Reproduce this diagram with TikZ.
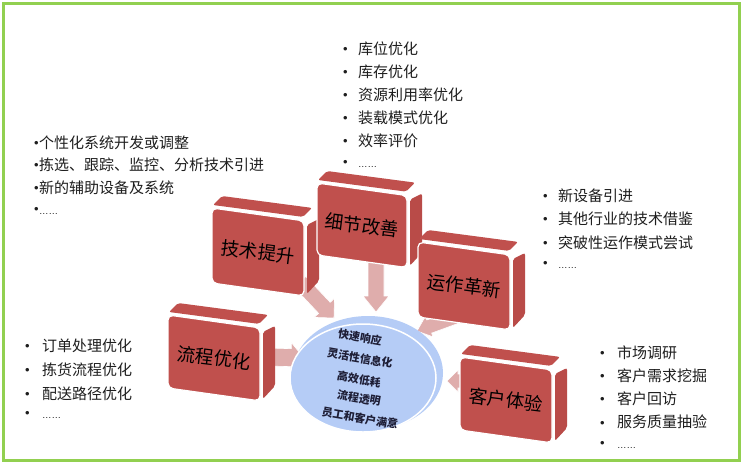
\documentclass[tikz,border=0pt]{standalone}
\usepackage{fontspec}
\setmainfont{Noto Sans CJK SC}
\newfontfamily\latf{Liberation Sans}
\usetikzlibrary{calc}
\definecolor{framegreen}{HTML}{92D050}
\definecolor{boxred}{HTML}{C0504D}
\definecolor{boxside}{HTML}{B94B48}
\definecolor{arrowpink}{HTML}{DFADAC}
\definecolor{ellblue}{HTML}{B5CCF6}
\definecolor{listtext}{HTML}{1E1E1E}
\definecolor{elltext}{HTML}{1E1E36}
\tikzset{
  boxface/.style={fill=boxred, draw=white, line width=1.2pt, rounded corners=5pt},
  boxlabel/.style={font=\fontsize{18.5}{18.5}\selectfont, text=black, rotate=-7, inner sep=0pt},
  listitem/.style={anchor=base west, inner sep=0pt, font=\fontsize{15}{15}\selectfont, text=listtext},
  blockarrow/.style={fill=arrowpink, draw=white, line width=0.6pt},
  elltxt/.style={font=\bfseries\fontsize{11}{11}\selectfont, text=elltext, rotate=-10, inner sep=0pt},
}
\newcommand\bul{\raisebox{0.8pt}{\latf\fontsize{13}{13}\selectfont\char"2022}}
\newcommand\dotsx{{\latf\fontsize{9.5}{9.5}\selectfont\char"2026\char"2026}}
\newcommand\cubebox[6]{%
  \fill[boxside, rounded corners=2pt] (#2+#4+3, #3+0.14*#4+4) -- (#2+#4+15, #3+0.14*#4-2) -- (#2+#4+15, #3+#5+0.14*#4-15) -- (#2+#4+3, #3+#5+0.14*#4-2) -- cycle;
  \fill[boxred, rounded corners=2pt] (#2+1,#3-3) -- (#2+10,#3-12) -- (#2+#4+8,#3+0.14*#4-13) -- (#2+#4-1,#3+0.14*#4-4) -- cycle;
  \draw[boxface] (#2,#3) -- (#2+#4,#3+0.14*#4) -- (#2+#4,#3+#5+0.14*#4) -- (#2,#3+#5) -- cycle;
  \node[boxlabel] (#1) at (#2+0.5*#4, #3+0.5*#5+0.07*#4) {#6};
}
\newcommand\blockarr[5]{%
  \coordinate (neck) at ($(#2)!#5!(#1)$);
  \path[blockarrow] ($(#1)!#3!90:(#2)$) -- ($(neck)!#3!90:(#2)$) -- ($(neck)!#4!90:(#2)$) -- (#2) -- ($(neck)!#4!-90:(#2)$) -- ($(neck)!#3!-90:(#2)$) -- ($(#1)!#3!-90:(#2)$) -- cycle;
}
\begin{document}
\begin{tikzpicture}[x=1pt,y=-1pt]
\useasboundingbox (0,0) rectangle (743,464);
\fill[white] (0,0) rectangle (743,464);
\draw[framegreen, line width=3pt] (3.5,3.5) rectangle (739.5,460.5);

% arrows
\coordinate (a1s) at (300,282); \coordinate (a1e) at (334,318);
\coordinate (a2s) at (376,262); \coordinate (a2e) at (376,312);
\coordinate (a3s) at (268,357); \coordinate (a3e) at (304,358);
\coordinate (a4s) at (458,316); \coordinate (a4e) at (417,331);
\coordinate (a5s) at (475,381); \coordinate (a5e) at (447,381);
\blockarr{a1s}{a1e}{8pt}{14pt}{14pt}
\blockarr{a2s}{a2e}{8pt}{13pt}{16pt}
\blockarr{a3s}{a3e}{9pt}{15pt}{13pt}
\blockarr{a4s}{a4e}{7pt}{11pt}{13pt}
\blockarr{a5s}{a5e}{7pt}{11pt}{11pt}

% ellipse
\coordinate (ell) at (368,373);
\fill[ellblue] (ell) ellipse [x radius=75pt, y radius=57pt];
\draw[fill=ellblue, draw=white, line width=1.5pt] (363,378) ellipse [x radius=73pt, y radius=54pt];
\node[elltxt] (e1) at (360,337) {快速响应};
\node[elltxt] (e2) at (360,358) {灵活性信息化};
\node[elltxt] (e3) at (359,379) {高效低耗};
\node[elltxt] (e4) at (359,398) {流程透明};
\node[elltxt] (e5) at (360,418) {员工和客户满意};

% boxes
\cubebox{tech}{212}{208}{92}{75}{技术提升}
\cubebox{detail}{317}{183}{90}{72}{细节改善}
\cubebox{flow}{168}{315}{92}{73}{流程优化}
\cubebox{ops}{418}{242}{92}{75}{运作革新}
\cubebox{cust}{460}{357}{92}{73}{客户体验}

% lists
\foreach \t [count=\i] in {库位优化,库存优化,资源利用率优化,装载模式优化,效率评价}
  \node[listitem] (d\i) at (343,{54+23*(\i-1)}) {\makebox[15pt][l]{\bul}\t};
\node[listitem] (d6) at (343,167) {\makebox[15pt][l]{\bul}\dotsx};

\foreach \t [count=\i] in {个性化系统开发或调整,拣选、跟踪、监控、分析技术引进,新的辅助设备及系统}
  \node[listitem] (t\i) at (34,{148+22.5*(\i-1)}) {\makebox[5pt][l]{\bul}\t};
\node[listitem] (t4) at (34,214) {\makebox[5pt][l]{\bul}\dotsx};

\foreach \t [count=\i] in {新设备引进,其他行业的技术借鉴,突破性运作模式尝试}
  \node[listitem] (o\i) at (543,{201+23.5*(\i-1)}) {\makebox[15pt][l]{\bul}\t};
\node[listitem] (o4) at (543,268) {\makebox[15pt][l]{\bul}\dotsx};

\foreach \t [count=\i] in {订单处理优化,拣货流程优化,配送路径优化}
  \node[listitem] (f\i) at (25,{351+24*(\i-1)}) {\makebox[17pt][l]{\bul}\t};
\node[listitem] (f4) at (25,418) {\makebox[17pt][l]{\bul}\dotsx};

\foreach \t [count=\i] in {市场调研,客户需求挖掘,客户回访,服务质量抽验}
  \node[listitem] (c\i) at (600,{358+23.3*(\i-1)}) {\makebox[17pt][l]{\bul}\t};
\node[listitem] (c5) at (600,448) {\makebox[17pt][l]{\bul}\dotsx};
\end{tikzpicture}
\end{document}
